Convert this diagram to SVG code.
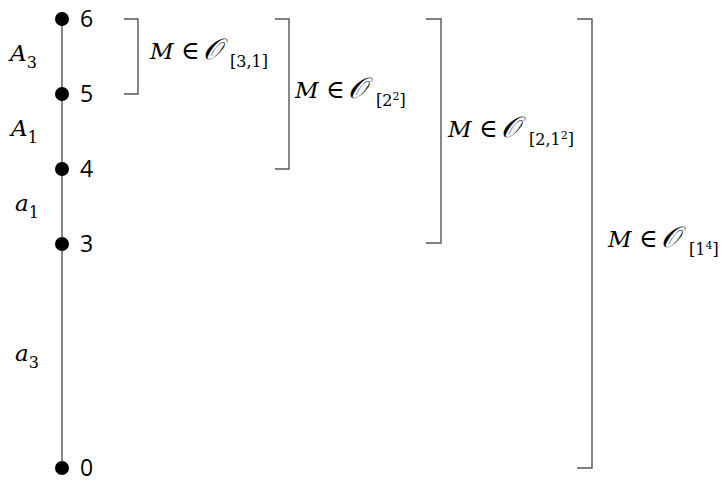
<svg xmlns="http://www.w3.org/2000/svg" width="727" height="484" viewBox="0 0 727 484">
<style>
.num{font-family:"Open Sans","Noto Sans",sans-serif;font-size:23px;fill:#000}
.m{font-family:"DejaVu Serif","Liberation Serif",serif;font-style:italic;font-size:23px;fill:#000}
.r{font-style:normal;font-size:25px}
.o{font-size:29px}
.sub{font-family:"DejaVu Serif","Liberation Serif",serif;font-style:normal;font-size:16px}
.sup{font-size:11px}
.br{fill:none;stroke:#555;stroke-width:1.4}
</style>
<rect width="727" height="484" fill="#fff"/>
<g id="edges">
<line x1="62" y1="19" x2="62" y2="468" stroke="#444" stroke-width="1.3"/>
</g>
<g id="p6"><circle cx="62" cy="19" r="7"/><text class="num" x="80" y="27">6</text></g>
<g id="p5"><circle cx="62" cy="94" r="7"/><text class="num" x="80" y="102">5</text></g>
<g id="p4"><circle cx="62" cy="169" r="7"/><text class="num" x="80" y="177">4</text></g>
<g id="p3"><circle cx="62" cy="244" r="7"/><text class="num" x="80" y="252">3</text></g>
<g id="p0"><circle cx="62" cy="468" r="7"/><text class="num" x="80" y="476">0</text></g>
<g id="lA3"><text class="m" x="10" y="61">A<tspan class="sub" dy="7">3</tspan></text></g>
<g id="lA1"><text class="m" x="11" y="136">A<tspan class="sub" dy="7">1</tspan></text></g>
<g id="la1"><text class="m" x="15" y="211">a<tspan class="sub" dy="7">1</tspan></text></g>
<g id="la3"><text class="m" x="15" y="361">a<tspan class="sub" dy="7">3</tspan></text></g>
<g id="b1"><polyline class="br" points="124,19 138,19 138,94 124,94"/>
<text class="m" y="59"><tspan x="150">M</tspan><tspan class="r" x="181">∈</tspan><tspan class="o" x="203">𝒪</tspan><tspan class="sub" x="230" dy="8">[3,1]</tspan></text></g>
<g id="b2"><polyline class="br" points="275,19 289,19 289,169 275,169"/>
<text class="m" y="98"><tspan x="295">M</tspan><tspan class="r" x="326">∈</tspan><tspan class="o" x="348">𝒪</tspan><tspan class="sub" x="376" dy="8">[2</tspan><tspan class="sub sup" dy="-6">2</tspan><tspan class="sub" dy="6">]</tspan></text></g>
<g id="b3"><polyline class="br" points="426,19 441,19 441,243 426,243"/>
<text class="m" y="137"><tspan x="448">M</tspan><tspan class="r" x="479">∈</tspan><tspan class="o" x="501">𝒪</tspan><tspan class="sub" x="529" dy="8">[2,1</tspan><tspan class="sub sup" dy="-6">2</tspan><tspan class="sub" dy="6">]</tspan></text></g>
<g id="b4"><polyline class="br" points="577,19 592,19 592,468 577,468"/>
<text class="m" y="247"><tspan x="608">M</tspan><tspan class="r" x="639">∈</tspan><tspan class="o" x="661">𝒪</tspan><tspan class="sub" x="689" dy="8">[1</tspan><tspan class="sub sup" dy="-6">4</tspan><tspan class="sub" dy="6">]</tspan></text></g>
</svg>
